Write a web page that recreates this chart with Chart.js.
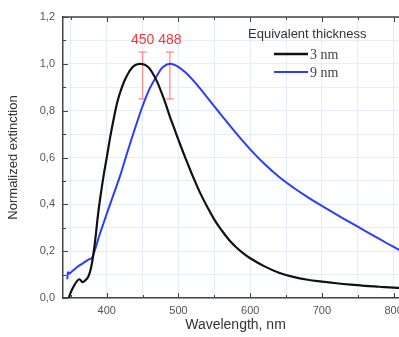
<!DOCTYPE html>
<html>
<head>
<meta charset="utf-8">
<script src="https://cdn.jsdelivr.net/npm/chart.js@4/dist/chart.umd.min.js"></script>
<style>
  html, body { margin: 0; padding: 0; background: #fff; }
  #wrap { width: 399px; height: 337px; overflow: hidden; position: relative; }
  canvas { display: block; }
</style>
</head>
<body>
<div id="wrap"><canvas id="ext" width="430" height="337"></canvas></div>
<script>
// wavelength (nm) and normalized extinction
const wl3 = [347, 350, 354, 358, 362, 366, 370, 374, 377, 380, 384, 388, 392, 396, 400, 405, 410, 415, 420, 425, 430, 435, 440, 446, 452, 458, 464, 470, 476, 482, 488, 494, 500, 510, 520, 530, 540, 550, 560, 570, 580, 590, 600, 620, 640, 660, 680, 700, 720, 740, 760, 780, 800, 820];
const ext3 = [0.0, 0.025, 0.05, 0.07, 0.08, 0.068, 0.075, 0.09, 0.115, 0.16, 0.25, 0.36, 0.45, 0.53, 0.60, 0.69, 0.77, 0.84, 0.89, 0.93, 0.96, 0.982, 0.995, 1.0, 0.997, 0.985, 0.96, 0.925, 0.88, 0.83, 0.775, 0.725, 0.675, 0.595, 0.52, 0.45, 0.39, 0.335, 0.29, 0.25, 0.218, 0.192, 0.17, 0.135, 0.108, 0.09, 0.078, 0.07, 0.063, 0.057, 0.052, 0.048, 0.044, 0.041];

const wl9 = [345, 346, 348, 352, 356, 360, 365, 370, 375, 379, 382, 386, 390, 395, 400, 405, 410, 415, 420, 430, 440, 450, 460, 470, 478, 488, 498, 508, 518, 530, 540, 560, 580, 600, 620, 640, 660, 680, 700, 720, 740, 760, 780, 800, 820];
const ext9 = [0.08, 0.11, 0.105, 0.115, 0.125, 0.135, 0.145, 0.155, 0.165, 0.17, 0.19, 0.23, 0.27, 0.315, 0.36, 0.403, 0.447, 0.49, 0.535, 0.635, 0.73, 0.82, 0.895, 0.95, 0.985, 1.0, 0.99, 0.968, 0.938, 0.895, 0.857, 0.78, 0.705, 0.635, 0.572, 0.518, 0.472, 0.431, 0.393, 0.357, 0.322, 0.287, 0.252, 0.218, 0.185];

// peak markers
const peakWl = [450, 488];
const peakLabels = ["450", "488"];
const barLow = 0.85;
const barHigh = 1.05;
const peakLabelY = 1.1;

const seriesNames = ["3 nm", "9 nm"];
const seriesColors = ["#111111", "#2b3cff"];
const legendTitle = "Equivalent thickness";

const toPoints = (xs, ys) => xs.map((x, i) => ({ x: x, y: ys[i] }));

//peak bars as small datasets
const peakSets = peakWl.map((w) => ({
    data: [{ x: w, y: barLow }, { x: w, y: barHigh }],
    borderColor: "rgba(255, 90, 90, 0.6)",
    borderWidth: 1.5,
    pointStyle: "line",
    pointRadius: 4,
    pointBorderColor: "rgba(255, 90, 90, 0.6)",
    pointBorderWidth: 1.5,
    tension: 0,
}));

//ticks pointing inward, top frame, peak labels and legend
const decor = {
    id: "decor",
    afterDraw(chart) {
        const ctx = chart.ctx;
        const xs = chart.scales.x;
        const ys = chart.scales.y;
        const a = chart.chartArea;
        ctx.save();
        ctx.strokeStyle = "#444";
        ctx.lineWidth = 1.5;
        ctx.beginPath();
        ctx.moveTo(a.left, a.top);
        ctx.lineTo(a.right, a.top);
        ctx.stroke();

        ctx.lineWidth = 1;
        ctx.beginPath();
        xs.ticks.forEach((t) => {
            const px = Math.round(xs.getPixelForValue(t.value)) + 0.5;
            const len = t.value % 100 === 0 ? 5 : 3;
            ctx.moveTo(px, a.bottom);
            ctx.lineTo(px, a.bottom - len);
            ctx.moveTo(px, a.top);
            ctx.lineTo(px, a.top + len);
        });
        ys.ticks.forEach((t) => {
            const py = Math.round(ys.getPixelForValue(t.value)) + 0.5;
            const len = Math.round(t.value * 10) % 2 === 0 ? 5 : 3;
            ctx.moveTo(a.left, py);
            ctx.lineTo(a.left + len, py);
        });
        ctx.stroke();

        //peak labels
        ctx.fillStyle = "#ff3434";
        ctx.font = "14px 'Liberation Sans', Arial, sans-serif";
        ctx.textAlign = "center";
        ctx.textBaseline = "middle";
        peakWl.forEach((w, i) => {
            ctx.fillText(peakLabels[i], xs.getPixelForValue(w), ys.getPixelForValue(peakLabelY));
        });

        //legend
        ctx.textAlign = "left";
        ctx.fillStyle = "#333";
        ctx.font = "13px 'Liberation Sans', Arial, sans-serif";
        ctx.fillText(legendTitle, 248, 34);
        ctx.font = "14px 'Liberation Serif', 'Times New Roman', serif";
        seriesNames.forEach((name, i) => {
            const y = 54 + i * 18;
            ctx.strokeStyle = seriesColors[i];
            ctx.lineWidth = i === 0 ? 2.5 : 1.8;
            ctx.beginPath();
            ctx.moveTo(274, y);
            ctx.lineTo(308, y);
            ctx.stroke();
            ctx.fillStyle = "#444";
            ctx.fillText(name, 310, y + 1);
        });
        ctx.restore();
    },
};

const chart = new Chart(document.getElementById("ext").getContext("2d"), {
    type: "line",
    data: {
        datasets: [
            {
                label: seriesNames[0],
                data: toPoints(wl3, ext3),
                borderColor: seriesColors[0],
                borderWidth: 2.2,
                pointRadius: 0,
                tension: 0.4,
            },
            {
                label: seriesNames[1],
                data: toPoints(wl9, ext9),
                borderColor: seriesColors[1],
                borderWidth: 2,
                pointRadius: 0,
                tension: 0.4,
            },
            ...peakSets,
        ],
    },
    options: {
        responsive: false,
        devicePixelRatio: 1,
        animation: false,
        layout: { padding: { left: 4, top: 17, right: 22, bottom: 0 } },
        plugins: {
            legend: { display: false },
            tooltip: { enabled: false },
        },
        scales: {
            x: {
                type: "linear",
                min: 339,
                max: 820,
                afterFit: (scale) => { scale.height = 39; },
                ticks: {
                    stepSize: 50,
                    includeBounds: false,
                    autoSkip: false,
                    maxRotation: 0,
                    padding: 6,
                    color: "#555",
                    font: { family: "'Liberation Sans', Arial, sans-serif", size: 11 },
                    callback: (v) => (v % 100 === 0 ? String(v) : ""),
                },
                grid: { color: "#e3eefb", drawTicks: false },
                border: { color: "#444", width: 1.5 },
                title: {
                    display: true,
                    text: "Wavelength, nm",
                    color: "#333",
                    font: { family: "'Liberation Sans', Arial, sans-serif", size: 14 },
                    padding: { top: 0, bottom: 3 },
                },
            },
            y: {
                min: 0,
                max: 1.2,
                afterFit: (scale) => { scale.width = 59; },
                ticks: {
                    stepSize: 0.1,
                    autoSkip: false,
                    padding: 8,
                    color: "#555",
                    font: { family: "'Liberation Sans', Arial, sans-serif", size: 11 },
                    callback: (v) => (Math.round(v * 10) % 2 === 0 ? v.toFixed(1).replace(".", ",") : ""),
                },
                grid: { color: "#e3eefb", drawTicks: false },
                border: { color: "#444", width: 1.5 },
                title: {
                    display: true,
                    text: "Normalized extinction",
                    color: "#333",
                    font: { family: "'Liberation Sans', Arial, sans-serif", size: 13 },
                    padding: { top: 2, bottom: 0 },
                },
            },
        },
    },
    plugins: [decor],
});
</script>
</body>
</html>
